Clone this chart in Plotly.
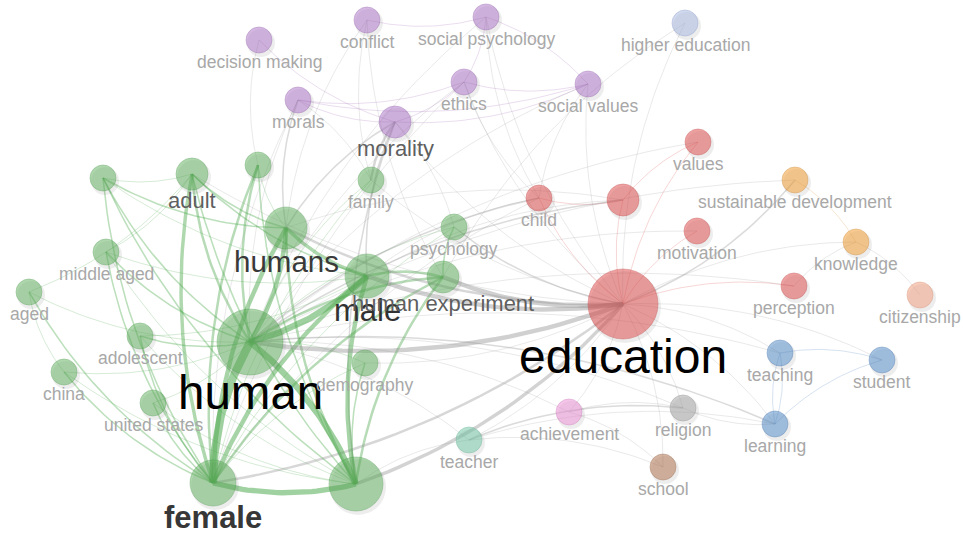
import plotly.graph_objects as go
import numpy as np

# ---------------- data ----------------
labels = ["human", "humans", "male", "female", "", "adult", "", "", "family", "psychology",
          "middle aged", "human experiment", "aged", "adolescent", "demography", "china", "united states",
          "decision making", "conflict", "social psychology", "ethics", "social values", "morals", "morality",
          "education", "", "values", "child", "motivation", "perception",
          "sustainable development", "knowledge", "citizenship",
          "teaching", "student", "learning", "religion", "achievement", "school", "teacher", "higher education"]
node_x = [250, 286, 367, 213, 356, 192, 103, 258, 371, 454,
          106, 443, 29, 140, 365, 64, 153,
          259, 367, 486, 464, 588, 298, 395,
          623, 623, 698, 539, 697, 794,
          795, 856, 920,
          780, 882, 775, 683, 569, 663, 469, 685]
node_y = [342, 228, 276, 483, 484, 174, 178, 165, 180, 227,
          252, 277, 292, 336, 363, 372, 403,
          40, 20, 17, 82, 84, 100, 122,
          304, 200, 142, 198, 231, 286,
          180, 242, 295,
          353, 360, 424, 408, 412, 467, 440, 23]
node_r = [33, 21, 22, 23, 27, 16, 13, 13, 13, 13,
          13, 16, 13, 13, 13, 13, 13,
          13, 13, 13, 13, 13, 13, 16,
          35, 16, 13, 13, 13, 13,
          13, 13, 13,
          13, 13, 13, 13, 13, 13, 13, 13]
clusters = ["g"] * 17 + ["p"] * 7 + ["r"] * 6 + ["o", "o", "s"] + ["b", "b", "b", "gr", "pk", "br", "t", "lb"]
bold_labels = ["female"]

edges = [  # (source, target, weight)
    ("human", "female", 9), ("human", "male", 7), ("human", "humans", 5), ("humans", "female", 5),
    ("male", "female", 5), ("female", "", 6), ("#4", "human", 7), ("humans", "male", 4),
    ("adult", "female", 4), ("adult", "human", 3), ("#7", "female", 3), ("#7", "human", 3),
    ("humans", "#4", 3), ("male", "#4", 5), ("human experiment", "female", 3),
    ("human experiment", "#4", 3), ("human experiment", "male", 3), ("human experiment", "human", 3),
    ("#6", "female", 2), ("#6", "human", 2), ("#6", "humans", 2), ("middle aged", "female", 2),
    ("middle aged", "human", 2), ("aged", "female", 2), ("aged", "human", 1), ("adolescent", "female", 2),
    ("adolescent", "human", 2), ("china", "female", 2), ("china", "human", 1), ("united states", "female", 2),
    ("united states", "human", 1), ("demography", "#4", 2), ("demography", "human", 1), ("family", "human", 1),
    ("psychology", "human", 1), ("psychology", "human experiment", 2), ("adult", "humans", 2), ("adult", "male", 2),
    ("#6", "adult", 1), ("middle aged", "adult", 1), ("aged", "adult", 1), ("#6", "#4", 2), ("adult", "#4", 2),
    ("#7", "#4", 2), ("#7", "humans", 1), ("middle aged", "#4", 1), ("china", "#4", 1), ("aged", "china", 1),
    ("adolescent", "male", 1), ("family", "female", 1), ("psychology", "female", 1), ("demography", "female", 1),
    ("#6", "male", 1), ("middle aged", "male", 1), ("adolescent", "#4", 1), ("united states", "#4", 1),
    ("morals", "ethics", 1), ("morals", "morality", 1), ("morals", "social values", 1), ("morality", "ethics", 1),
    ("morality", "social values", 1), ("ethics", "social psychology", 1), ("social values", "social psychology", 1),
    ("conflict", "social psychology", 1), ("ethics", "social values", 1),
    ("decision making", "#7", 1), ("decision making", "morality", 1), ("conflict", "human experiment", 1),
    ("conflict", "family", 1), ("social psychology", "child", 1), ("social psychology", "education", 1),
    ("ethics", "education", 1), ("ethics", "child", 1), ("social values", "child", 1), ("social values", "education", 1),
    ("morality", "family", 3), ("morality", "humans", 2), ("morality", "male", 2), ("morality", "#4", 2),
    ("morals", "humans", 2), ("morals", "human", 1), ("morals", "female", 1), ("ethics", "human", 1),
    ("ethics", "female", 1), ("social psychology", "human", 1),
    ("values", "#25", 1), ("higher education", "education", 1), ("values", "education", 1), ("child", "education", 1),
    ("child", "#25", 1), ("#25", "education", 1), ("motivation", "education", 1), ("perception", "education", 1),
    ("education", "sustainable development", 2), ("knowledge", "education", 1),
    ("knowledge", "sustainable development", 1), ("citizenship", "knowledge", 1), ("teaching", "education", 1),
    ("student", "education", 1), ("student", "teaching", 1), ("student", "learning", 1), ("learning", "teaching", 1),
    ("learning", "education", 1), ("learning", "human", 2), ("learning", "teacher", 1), ("religion", "education", 1),
    ("religion", "teacher", 2), ("religion", "achievement", 1), ("religion", "human", 1),
    ("achievement", "education", 1), ("school", "education", 1), ("school", "achievement", 1),
    ("school", "teacher", 1), ("teacher", "education", 1), ("teacher", "human", 1), ("teacher", "#4", 1),
    ("human", "education", 5), ("male", "education", 5), ("humans", "education", 3), ("female", "education", 3),
    ("#4", "education", 4), ("human experiment", "education", 5), ("psychology", "education", 2),
    ("child", "human", 2), ("child", "male", 1), ("child", "female", 1), ("#25", "human", 2), ("#25", "male", 1),
    ("#25", "humans", 1), ("motivation", "human", 1), ("perception", "human", 1), ("family", "education", 1),
    ("adult", "education", 1), ("demography", "education", 1), ("morality", "education", 1),
    ("sustainable development", "human", 1), ("teaching", "human", 1), ("values", "human", 1),
    ("psychology", "morality", 1), ("family", "morals", 1), ("conflict", "humans", 1),
    ("social values", "human", 1), ("higher education", "human experiment", 1), ("knowledge", "perception", 1),
    ("teaching", "learning", 1), ("achievement", "human", 1), ("religion", "learning", 1),
]

# ---------------- styling ----------------
node_fill = {"g": "rgba(98,178,95,0.72)", "p": "rgba(175,120,200,0.75)", "r": "rgba(224,85,85,0.78)",
             "o": "rgba(242,162,62,0.8)", "s": "rgba(242,165,135,0.8)", "b": "rgba(95,148,202,0.8)",
             "gr": "rgba(170,170,170,0.8)", "pk": "rgba(238,152,218,0.8)", "br": "rgba(180,122,88,0.8)",
             "t": "rgba(125,202,172,0.8)", "lb": "rgba(172,188,226,0.8)"}
node_line = {"g": "rgba(70,150,70,0.5)", "p": "rgba(140,90,165,0.5)", "r": "rgba(190,60,60,0.5)",
             "o": "rgba(200,130,40,0.5)", "s": "rgba(210,130,100,0.5)", "b": "rgba(60,110,170,0.5)",
             "gr": "rgba(130,130,130,0.5)", "pk": "rgba(200,110,180,0.5)", "br": "rgba(140,90,60,0.5)",
             "t": "rgba(90,170,140,0.5)", "lb": "rgba(130,150,200,0.5)"}
edge_col = {"g": "rgba(80,170,80,{a})", "p": "rgba(165,110,185,{a})", "r": "rgba(220,80,80,{a})",
            "b": "rgba(80,130,190,{a})", "o": "rgba(220,150,60,{a})"}


def idx(name):
    if name.startswith("#"):
        return int(name[1:])
    if name == "":
        return 4
    return labels.index(name)


groups = {}
for s, t, w in edges:
    i, j = idx(s), idx(t)
    x0, y0, x1, y1 = node_x[i], node_y[i], node_x[j], node_y[j]
    dx, dy = x1 - x0, y1 - y0
    k = 0.13
    cx, cy = (x0 + x1) / 2 - k * dy, (y0 + y1) / 2 + k * dx
    tt = np.linspace(0, 1, 30)
    bx = (1 - tt) ** 2 * x0 + 2 * (1 - tt) * tt * cx + tt ** 2 * x1
    by = (1 - tt) ** 2 * y0 + 2 * (1 - tt) * tt * cy + tt ** 2 * y1
    same = clusters[i] == clusters[j] and clusters[i] in edge_col
    alpha = min(0.3 + 0.04 * w, 0.55)
    if same:
        col = edge_col[clusters[i]].format(a=alpha)
    else:
        col = "rgba(150,150,150,{})".format(round(alpha * 0.9, 3))
    width = 0.6 + 0.95 * (w - 1) if w > 1 else 0.7
    key = (col, round(width, 2))
    gx, gy = groups.setdefault(key, ([], []))
    gx.extend(list(bx) + [None])
    gy.extend(list(by) + [None])

fig = go.Figure()
for (col, width), (gx, gy) in sorted(groups.items(), key=lambda kv: kv[0][1]):
    fig.add_trace(go.Scatter(x=gx, y=gy, mode="lines", line=dict(color=col, width=width),
                             hoverinfo="skip", showlegend=False))

# shadows
fig.add_trace(go.Scatter(x=[v + 2 for v in node_x], y=[v + 3 for v in node_y], mode="markers",
                         marker=dict(size=[2 * r + 2 for r in node_r], color="rgba(0,0,0,0.10)", line=dict(width=0)),
                         hoverinfo="skip", showlegend=False))
# nodes
fig.add_trace(go.Scatter(x=node_x, y=node_y, mode="markers",
                         marker=dict(size=[2 * r for r in node_r], color=[node_fill[c] for c in clusters],
                                     line=dict(color=[node_line[c] for c in clusters], width=1)),
                         hoverinfo="skip", showlegend=False))

# labels
for lab, x, y, r in zip(labels, node_x, node_y, node_r):
    if not lab:
        continue
    fs = min(17.5 + (r - 13) * 1.5, 48)
    g = int(np.interp(r, [13, 16, 22, 33], [168, 95, 50, 0]))
    if lab in bold_labels:
        g = 55
        fs = 31
    txt = "<b>%s</b>" % lab if lab in bold_labels else lab
    fig.add_annotation(x=x, y=y + r + fs * 0.28 + 4 - (1 if lab in bold_labels else 0), text=txt, showarrow=False,
                       font=dict(family="Liberation Sans, Arial", size=fs, color="rgb(%d,%d,%d)" % (g, g, g)),
                       xanchor="center", yanchor="middle")

fig.update_layout(width=963, height=533, margin=dict(l=0, r=0, t=0, b=0),
                  paper_bgcolor="white", plot_bgcolor="white",
                  xaxis=dict(range=[0, 963], visible=False, fixedrange=True),
                  yaxis=dict(range=[533, 0], visible=False, fixedrange=True))
fig.write_html("out.html", config={"displayModeBar": False},
               post_script="document.body.style.margin='0';document.body.style.overflow='hidden';")
